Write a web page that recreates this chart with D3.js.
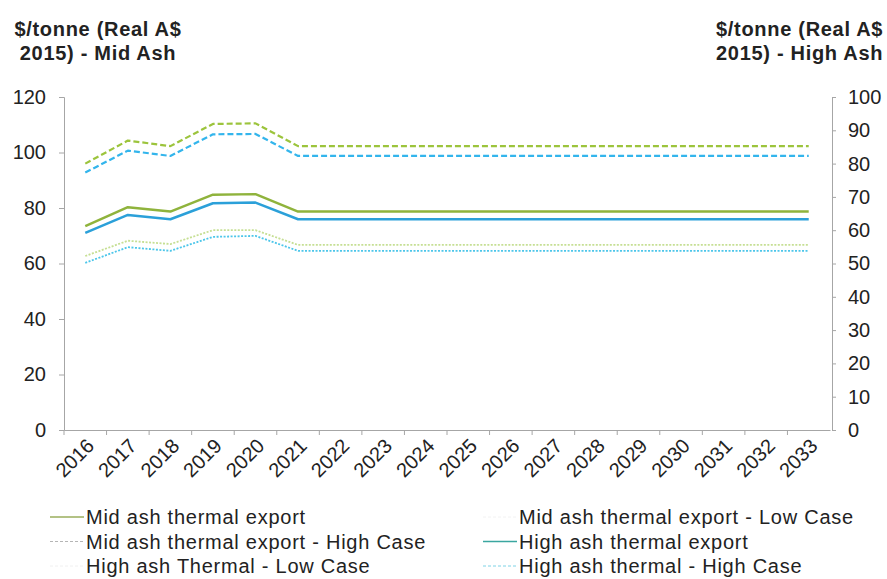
<!DOCTYPE html>
<html lang="en">
<head>
    <meta charset="UTF-8">
    <title>Thermal coal price</title>
    <script src="https://d3js.org/d3.v7.min.js"></script>
</head>
<body>
<div id='chart'>
    <svg></svg>
</div>
</body>

<style>
    body {
        margin: 0;
        background: #fff;
    }

    text {
        font-family: "Liberation Sans", Arial, sans-serif;
        fill: #222;
    }

    .axis path, .axis line {
        stroke: #a6a6a6;
    }

    .axis text {
        font-size: 20px;
    }

    .legend text {
        font-size: 20px;
        letter-spacing: 0.75px;
    }
</style>

<script>
    const years = ['2016', '2017', '2018', '2019', '2020', '2021', '2022', '2023', '2024',
        '2025', '2026', '2027', '2028', '2029', '2030', '2031', '2032', '2033'];

    // left axis (mid ash)
    const midAsh = [73.5, 80.3, 78.7, 84.8, 85.0, 78.7, 78.7, 78.7, 78.7, 78.7, 78.7, 78.7, 78.7, 78.7, 78.7, 78.7, 78.7, 78.7];
    const midAshLow = [62.7, 68.2, 67.0, 72.0, 72.0, 66.7, 66.7, 66.7, 66.7, 66.7, 66.7, 66.7, 66.7, 66.7, 66.7, 66.7, 66.7, 66.7];
    const midAshHigh = [96.0, 104.3, 102.3, 110.3, 110.5, 102.3, 102.3, 102.3, 102.3, 102.3, 102.3, 102.3, 102.3, 102.3, 102.3, 102.3, 102.3, 102.3];

    // right axis (high ash)
    const highAsh = [59.2, 64.6, 63.3, 68.1, 68.3, 63.3, 63.3, 63.3, 63.3, 63.3, 63.3, 63.3, 63.3, 63.3, 63.3, 63.3, 63.3, 63.3];
    const highAshLow = [50.2, 54.9, 53.8, 58.0, 58.3, 53.8, 53.8, 53.8, 53.8, 53.8, 53.8, 53.8, 53.8, 53.8, 53.8, 53.8, 53.8, 53.8];
    const highAshHigh = [77.3, 83.9, 82.3, 88.8, 88.9, 82.3, 82.3, 82.3, 82.3, 82.3, 82.3, 82.3, 82.3, 82.3, 82.3, 82.3, 82.3, 82.3];

    const leftTicks = [0, 20, 40, 60, 80, 100, 120];
    const rightTicks = [0, 10, 20, 30, 40, 50, 60, 70, 80, 90, 100];

    // legend order: left column then right column
    const series = [
        {name: 'Mid ash thermal export', values: midAsh, axis: 'left', color: '#8fb33c', width: 2.5, dash: null, swatch: '#9aae5c'},
        {name: 'Mid ash thermal export - High Case', values: midAshHigh, axis: 'left', color: '#9cc43c', width: 2.2, dash: '6,3', swatch: '#b5b5b5'},
        {name: 'High ash Thermal - Low Case', values: highAshLow, axis: 'right', color: '#4cc6ea', width: 1.8, dash: '2,1.5', swatch: '#f0f0f0'},
        {name: 'Mid ash thermal export - Low Case', values: midAshLow, axis: 'left', color: '#c6df94', width: 1.8, dash: '2,1.5', swatch: '#f2f2f2'},
        {name: 'High ash thermal export', values: highAsh, axis: 'right', color: '#2ba0d9', width: 2.5, dash: null, swatch: '#3aa6a0'},
        {name: 'High ash thermal - High Case', values: highAshHigh, axis: 'right', color: '#33b5ec', width: 2.2, dash: '6,3', swatch: '#7fd3e6'}
    ];

    const width = 887, height = 579;
    const margin = {top: 97, right: 57, bottom: 149, left: 64};

    const svg = d3.select('svg')
        .attr('width', width)
        .attr('height', height);

    const x = d3.scaleBand()
        .domain(years)
        .range([margin.left, width - margin.right]);

    const yLeft = d3.scaleLinear()
        .domain([0, 120])
        .range([height - margin.bottom, margin.top]);

    const yRight = d3.scaleLinear()
        .domain([0, 100])
        .range([height - margin.bottom, margin.top]);

    // axis titles
    const titles = svg.append('g')
        .style('font-size', '20px')
        .style('font-weight', 'bold')
        .style('letter-spacing', '0.7px');
    titles.append('text').attr('x', 98).attr('y', 36).attr('text-anchor', 'middle').text('$/tonne (Real A$');
    titles.append('text').attr('x', 98).attr('y', 60).attr('text-anchor', 'middle').text('2015) - Mid Ash');
    titles.append('text').attr('x', 716).attr('y', 36).text('$/tonne (Real A$');
    titles.append('text').attr('x', 716).attr('y', 60).text('2015) - High Ash');

    // axes
    svg.append('g')
        .attr('class', 'axis')
        .attr('transform', `translate(${margin.left},0)`)
        .call(d3.axisLeft(yLeft).tickValues(leftTicks).tickSize(5).tickPadding(13).tickSizeOuter(5))
        .call(g => g.selectAll('text').attr('font-family', null));

    svg.append('g')
        .attr('class', 'axis')
        .attr('transform', `translate(${width - margin.right + 2},0)`)
        .call(d3.axisRight(yRight).tickValues(rightTicks).tickSize(4).tickPadding(12).tickSizeOuter(4))
        .call(g => g.selectAll('text').attr('font-family', null));

    const xAxis = svg.append('g')
        .attr('class', 'axis')
        .attr('transform', `translate(0,${height - margin.bottom})`)
        .call(d3.axisBottom(x).tickSize(0).tickSizeOuter(0));

    xAxis.selectAll('text')
        .attr('font-family', null)
        .attr('text-anchor', 'end')
        .attr('dy', null)
        .attr('transform', 'translate(8,15) rotate(-45)');

    // tick marks at band boundaries
    xAxis.selectAll('line.sep')
        .data(years)
        .join('line')
        .attr('class', 'sep')
        .attr('x1', d => x(d))
        .attr('x2', d => x(d))
        .attr('y1', 0)
        .attr('y2', 5);

    // lines
    const gLines = svg.append('g').attr('fill', 'none');
    const drawOrder = [3, 2, 0, 4, 1, 5];
    drawOrder.forEach(i => {
        const s = series[i];
        const y = s.axis === 'left' ? yLeft : yRight;
        const line = d3.line()
            .x((d, j) => x(years[j]) + x.bandwidth() / 2)
            .y(d => y(d));
        gLines.append('path')
            .datum(s.values)
            .attr('d', line)
            .attr('stroke', s.color)
            .attr('stroke-width', s.width)
            .attr('stroke-dasharray', s.dash)
            .attr('stroke-linejoin', 'round');
    });

    // legend
    const legend = svg.append('g').attr('class', 'legend');
    const item = legend.selectAll('g')
        .data(series)
        .join('g')
        .attr('transform', (d, i) => i < 3
            ? `translate(50,${517 + i * 24.5})`
            : `translate(483,${517 + (i - 3) * 24.5})`);

    item.append('line')
        .attr('x1', 0)
        .attr('x2', 34)
        .attr('stroke', d => d.swatch)
        .attr('stroke-width', d => d.dash ? 1 : 1.5)
        .attr('stroke-dasharray', d => d.dash ? '3,2' : null);

    item.append('text')
        .attr('x', 36)
        .attr('dy', '0.35em')
        .text(d => d.name);
</script>
</html>
